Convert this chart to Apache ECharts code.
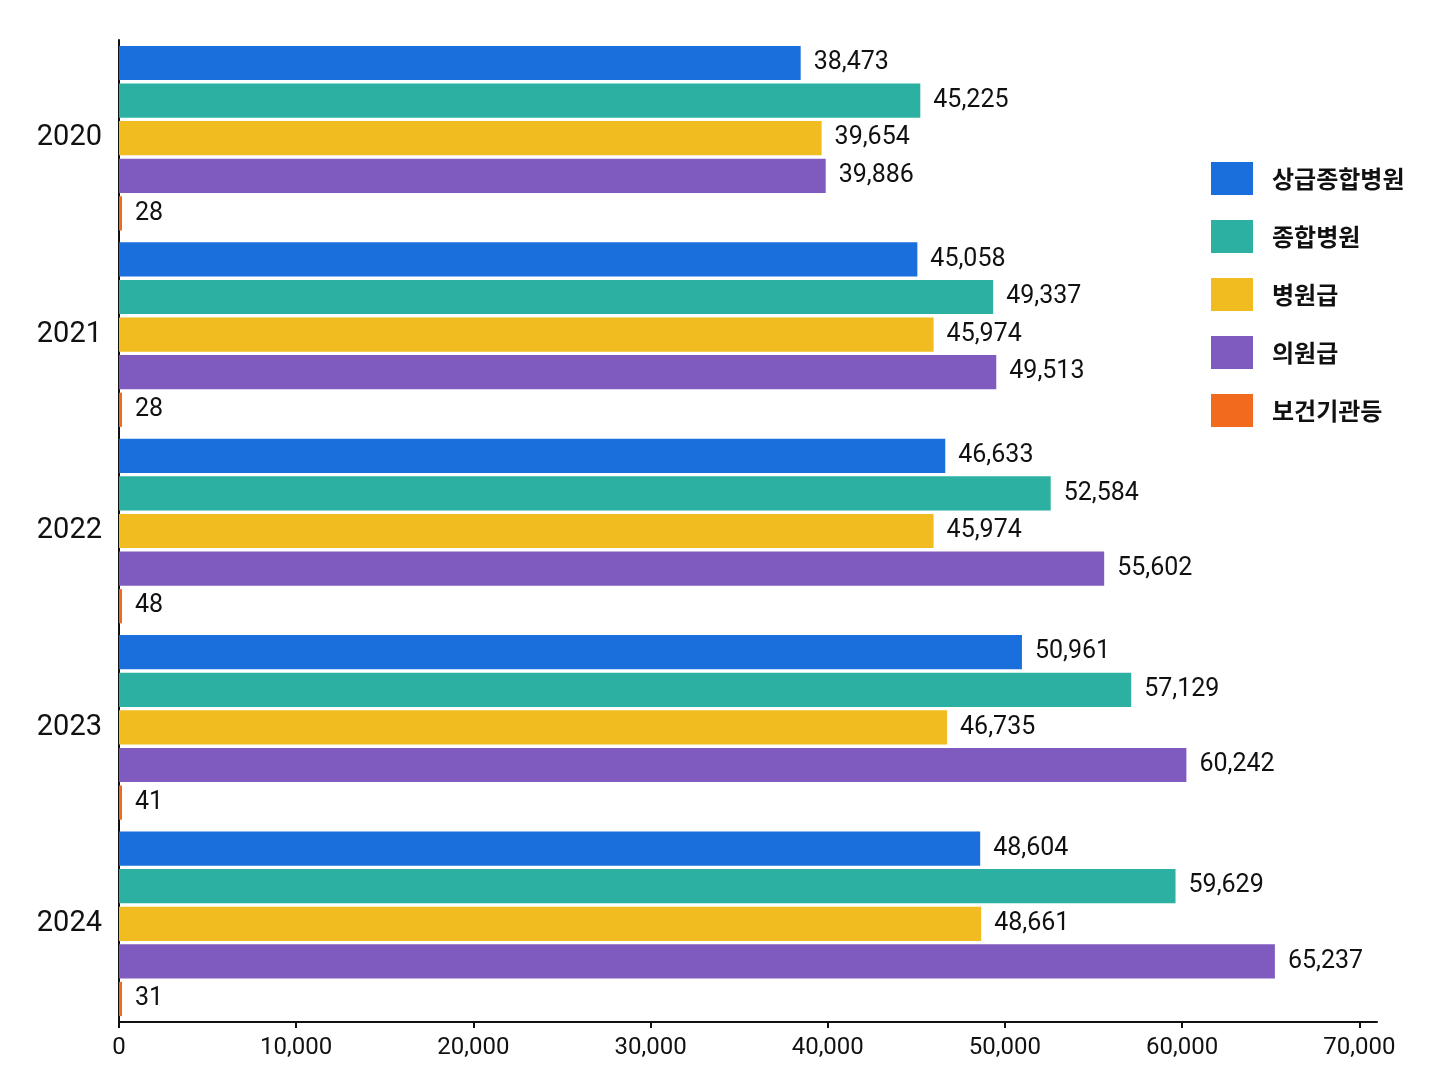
<!DOCTYPE html>
<html>
<head>
<meta charset="utf-8">
<script src="https://cdn.jsdelivr.net/npm/echarts@6/dist/echarts.min.js"></script>
<style>
html,body{margin:0;padding:0;background:#fff;}
#chart{width:1448px;height:1086px;}
</style>
</head>
<body>
<div id="chart"></div>
<script>
const years = ['2020', '2021', '2022', '2023', '2024'];
const seriesNames = ['상급종합병원', '종합병원', '병원급', '의원급', '보건기관등'];
const tertiary = [38473, 45058, 46633, 50961, 48604];
const general = [45225, 49337, 52584, 57129, 59629];
const hospital = [39654, 45974, 45974, 46735, 48661];
const clinic = [39886, 49513, 55602, 60242, 65237];
const publicHealth = [28, 28, 48, 41, 31];
const xTicks = [0, 10000, 20000, 30000, 40000, 50000, 60000, 70000];

const colors = ['#1b6fdc', '#2bb0a1', '#f0bc1f', '#805bbf', '#f26a1e'];
const seriesData = [tertiary, general, hospital, clinic, publicHealth];

const chart = echarts.init(document.getElementById('chart'));
const fontNum = 'Roboto, "Noto Sans", sans-serif';

chart.setOption({
  backgroundColor: '#ffffff',
  animation: false,
  color: colors,
  grid: { left: 119, right: 71, top: 40, bottom: 64, containLabel: false },
  legend: {
    orient: 'vertical',
    left: 1206,
    top: 157,
    icon: 'rect',
    itemWidth: 42,
    itemHeight: 33,
    itemGap: 25,
    textStyle: { fontFamily: '"Noto Sans CJK KR", sans-serif', fontSize: 24, fontWeight: 'bold', color: '#111', padding: [0, 0, 0, 14] },
    data: seriesNames
  },
  xAxis: {
    type: 'value',
    min: 0,
    max: 71000,
    interval: 10000,
    splitLine: { show: false },
    axisLine: { show: true, lineStyle: { color: '#111', width: 2 } },
    axisTick: { show: true, customValues: xTicks, length: 6, lineStyle: { color: '#111', width: 2 } },
    axisLabel: {
      customValues: xTicks,
      fontFamily: fontNum, fontSize: 24, color: '#111', margin: 14,
      formatter: v => v.toLocaleString('en-US')
    }
  },
  yAxis: {
    type: 'category',
    data: years,
    inverse: true,
    axisLine: { show: true, lineStyle: { color: '#111', width: 2 } },
    axisTick: { show: false },
    axisLabel: { fontFamily: fontNum, fontSize: 29, color: '#111', margin: 17 }
  },
  series: seriesNames.map((name, i) => ({
    name: name,
    type: 'bar',
    data: seriesData[i],
    barGap: '10%',
    barCategoryGap: '6%',
    barMinHeight: 3,
    itemStyle: { color: colors[i] },
    label: {
      show: true,
      position: 'right',
      distance: 13,
      fontFamily: fontNum,
      fontSize: 25,
      color: '#111',
      formatter: p => p.value.toLocaleString('en-US')
    }
  }))
});
</script>
</body>
</html>
